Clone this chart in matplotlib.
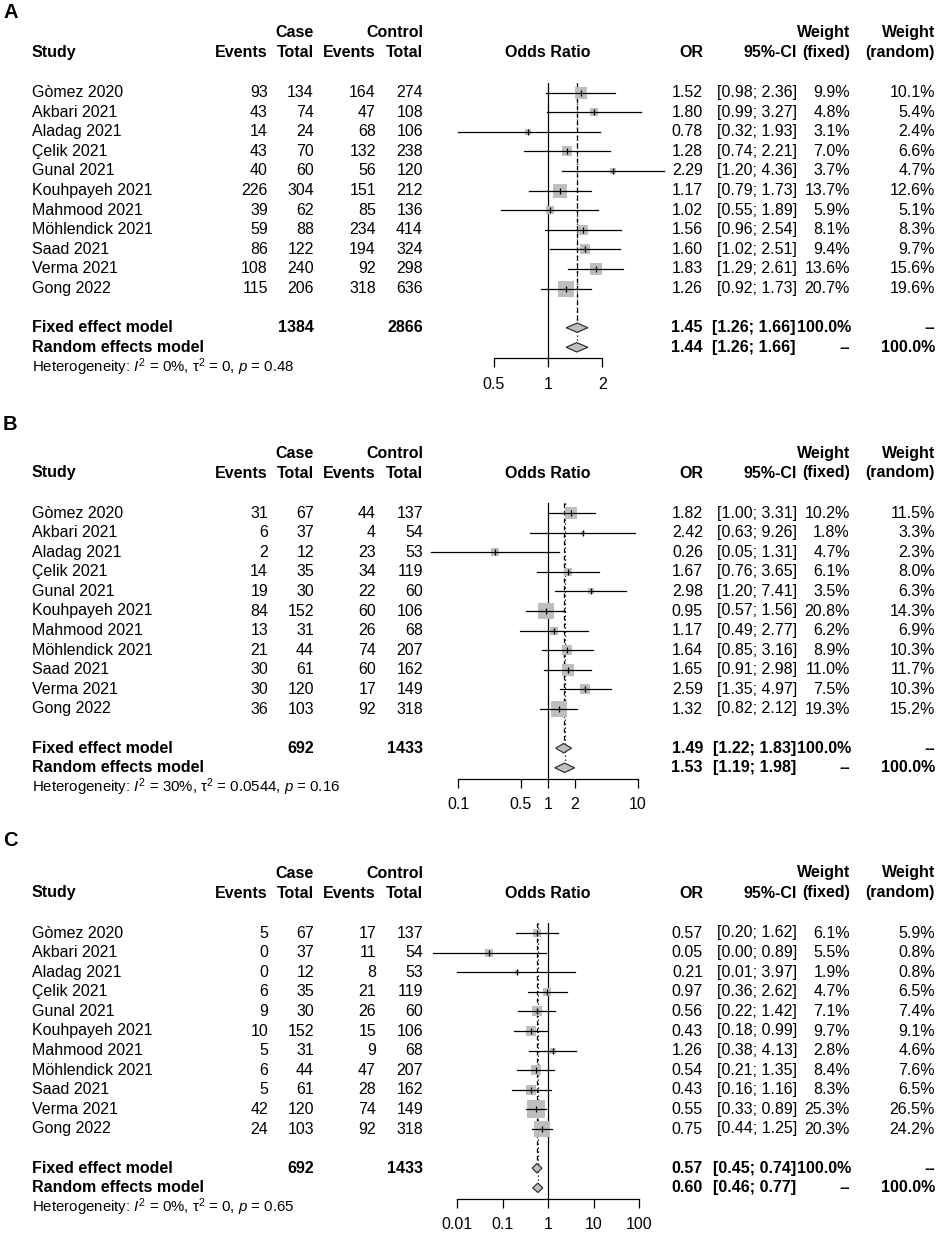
import numpy as np
import matplotlib
matplotlib.use("Agg")
import matplotlib.pyplot as plt

plt.rcParams['font.family'] = ['Liberation Sans', 'DejaVu Sans']
plt.rcParams['mathtext.fontset'] = 'custom'
plt.rcParams['mathtext.rm'] = 'Liberation Sans'
plt.rcParams['mathtext.it'] = 'Liberation Sans:italic'
plt.rcParams['mathtext.bf'] = 'Liberation Sans:bold'

studies = ["Gòmez 2020", "Akbari 2021", "Aladag 2021", "Çelik 2021", "Gunal 2021",
           "Kouhpayeh 2021", "Mahmood 2021", "Möhlendick 2021", "Saad 2021",
           "Verma 2021", "Gong 2022"]

# panel A
a_case_ev = [93, 43, 14, 43, 40, 226, 39, 59, 86, 108, 115]
a_case_tot = [134, 74, 24, 70, 60, 304, 62, 88, 122, 240, 206]
a_ctrl_ev = [164, 47, 68, 132, 56, 151, 85, 234, 194, 92, 318]
a_ctrl_tot = [274, 108, 106, 238, 120, 212, 136, 414, 324, 298, 636]
a_or = [1.52, 1.80, 0.78, 1.28, 2.29, 1.17, 1.02, 1.56, 1.60, 1.83, 1.26]
a_lo = [0.98, 0.99, 0.32, 0.74, 1.20, 0.79, 0.55, 0.96, 1.02, 1.29, 0.92]
a_hi = [2.36, 3.27, 1.93, 2.21, 4.36, 1.73, 1.89, 2.54, 2.51, 2.61, 1.73]
a_wf = [9.9, 4.8, 3.1, 7.0, 3.7, 13.7, 5.9, 8.1, 9.4, 13.6, 20.7]
a_wr = [10.1, 5.4, 2.4, 6.6, 4.7, 12.6, 5.1, 8.3, 9.7, 15.6, 19.6]
a_fixed = [1.45, 1.26, 1.66]
a_random = [1.44, 1.26, 1.66]
a_totals = [1384, 2866]
a_het = ["0%", "0", "0.48"]
a_ticks = [0.5, 1, 2]
a_ticklabels = ["0.5", "1", "2"]

# panel B
b_case_ev = [31, 6, 2, 14, 19, 84, 13, 21, 30, 30, 36]
b_case_tot = [67, 37, 12, 35, 30, 152, 31, 44, 61, 120, 103]
b_ctrl_ev = [44, 4, 23, 34, 22, 60, 26, 74, 60, 17, 92]
b_ctrl_tot = [137, 54, 53, 119, 60, 106, 68, 207, 162, 149, 318]
b_or = [1.82, 2.42, 0.26, 1.67, 2.98, 0.95, 1.17, 1.64, 1.65, 2.59, 1.32]
b_lo = [1.00, 0.63, 0.05, 0.76, 1.20, 0.57, 0.49, 0.85, 0.91, 1.35, 0.82]
b_hi = [3.31, 9.26, 1.31, 3.65, 7.41, 1.56, 2.77, 3.16, 2.98, 4.97, 2.12]
b_wf = [10.2, 1.8, 4.7, 6.1, 3.5, 20.8, 6.2, 8.9, 11.0, 7.5, 19.3]
b_wr = [11.5, 3.3, 2.3, 8.0, 6.3, 14.3, 6.9, 10.3, 11.7, 10.3, 15.2]
b_fixed = [1.49, 1.22, 1.83]
b_random = [1.53, 1.19, 1.98]
b_totals = [692, 1433]
b_het = ["30%", "0.0544", "0.16"]
b_ticks = [0.1, 0.5, 1, 2, 10]
b_ticklabels = ["0.1", "0.5", "1", "2", "10"]

# panel C
c_case_ev = [5, 0, 0, 6, 9, 10, 5, 6, 5, 42, 24]
c_case_tot = [67, 37, 12, 35, 30, 152, 31, 44, 61, 120, 103]
c_ctrl_ev = [17, 11, 8, 21, 26, 15, 9, 47, 28, 74, 92]
c_ctrl_tot = [137, 54, 53, 119, 60, 106, 68, 207, 162, 149, 318]
c_or = [0.57, 0.05, 0.21, 0.97, 0.56, 0.43, 1.26, 0.54, 0.43, 0.55, 0.75]
c_lo = [0.20, 0.003, 0.01, 0.36, 0.22, 0.18, 0.38, 0.21, 0.16, 0.33, 0.44]
c_hi = [1.62, 0.89, 3.97, 2.62, 1.42, 0.99, 4.13, 1.35, 1.16, 0.89, 1.25]
c_wf = [6.1, 5.5, 1.9, 4.7, 7.1, 9.7, 2.8, 8.4, 8.3, 25.3, 20.3]
c_wr = [5.9, 0.8, 0.8, 6.5, 7.4, 9.1, 4.6, 7.6, 6.5, 26.5, 24.2]
c_fixed = [0.57, 0.45, 0.74]
c_random = [0.60, 0.46, 0.77]
c_totals = [692, 1433]
c_het = ["0%", "0", "0.65"]
c_ticks = [0.01, 0.1, 1, 10, 100]
c_ticklabels = ["0.01", "0.1", "1", "10", "100"]

W, H = 941, 1235
fig = plt.figure(figsize=(W / 100, H / 100), dpi=100)
FS = 11.5
ROW = 19.6
GRAY = "#BEBEBE"


def txt(x, y, s, ha="left", bold=False, size=FS):
    fig.text(x / W, 1 - y / H, s, ha=ha, va="center", fontsize=size,
             fontweight="bold" if bold else "normal")


def panel(label, label_y, row0, case_ev, case_tot, ctrl_ev, ctrl_tot, ors, lo, hi,
          wf, wr, fixed, random, totals, het, ticks, ticklabels, px_dec):
    txt(3, label_y, label, bold=True, size=14.5)
    h1 = row0 - 60
    h2 = row0 - 40
    txt(314, h1, "Case", ha="right", bold=True)
    txt(423, h1, "Control", ha="right", bold=True)
    txt(850, h1, "Weight", ha="right", bold=True)
    txt(935, h1, "Weight", ha="right", bold=True)
    txt(32, h2, "Study", bold=True)
    txt(268, h2, "Events", ha="right", bold=True)
    txt(314, h2, "Total", ha="right", bold=True)
    txt(376, h2, "Events", ha="right", bold=True)
    txt(423, h2, "Total", ha="right", bold=True)
    txt(548, h2, "Odds Ratio", ha="center", bold=True)
    txt(703, h2, "OR", ha="right", bold=True)
    txt(797, h2, "95%-CI", ha="right", bold=True)
    txt(850, h2, "(fixed)", ha="right", bold=True)
    txt(935, h2, "(random)", ha="right", bold=True)

    for i, name in enumerate(studies):
        y = row0 + i * ROW
        txt(32, y, name)
        txt(268, y, str(case_ev[i]), ha="right")
        txt(314, y, str(case_tot[i]), ha="right")
        txt(376, y, str(ctrl_ev[i]), ha="right")
        txt(423, y, str(ctrl_tot[i]), ha="right")
        txt(703, y, f"{ors[i]:.2f}", ha="right")
        txt(797, y, f"[{lo[i]:.2f}; {hi[i]:.2f}]", ha="right")
        txt(850, y, f"{wf[i]:.1f}%", ha="right")
        txt(935, y, f"{wr[i]:.1f}%", ha="right")

    yf = row0 + 12 * ROW
    yr = row0 + 13 * ROW
    txt(32, yf, "Fixed effect model", bold=True)
    txt(314, yf, str(totals[0]), ha="right", bold=True)
    txt(423, yf, str(totals[1]), ha="right", bold=True)
    txt(703, yf, f"{fixed[0]:.2f}", ha="right", bold=True)
    txt(796, yf, f"[{fixed[1]:.2f}; {fixed[2]:.2f}]", ha="right", bold=True)
    txt(851, yf, "100.0%", ha="right", bold=True)
    txt(935, yf, "--", ha="right", bold=True)
    txt(32, yr, "Random effects model", bold=True)
    txt(703, yr, f"{random[0]:.2f}", ha="right", bold=True)
    txt(796, yr, f"[{random[1]:.2f}; {random[2]:.2f}]", ha="right", bold=True)
    txt(850, yr, "--", ha="right", bold=True)
    txt(935, yr, "100.0%", ha="right", bold=True)
    het_str = ("Heterogeneity: $\\mathit{I}^{2}$ = " + het[0] + ", τ${}^{2}$ = "
               + het[1] + ", $\\mathit{p}$ = " + het[2])
    txt(32, row0 + 14 * ROW, het_str, size=10.8)

    # forest part
    x0, x1 = 420, 690
    top = -0.7
    bot = 13.55
    ax = fig.add_axes([x0 / W, 1 - (row0 + bot * ROW) / H, (x1 - x0) / W,
                       (bot - top) * ROW / H])
    ax.set_xscale("log")
    ax.set_xlim(10 ** ((x0 - 548) / px_dec), 10 ** ((x1 - 548) / px_dec))
    ax.set_ylim(bot, top)
    ax.patch.set_alpha(0)
    for s in ["top", "left", "right"]:
        ax.spines[s].set_visible(False)
    ax.spines["bottom"].set_bounds(ticks[0], ticks[-1])
    ax.spines["bottom"].set_linewidth(0.9)
    ax.set_yticks([])
    ax.set_xticks(ticks)
    ax.set_xticklabels(ticklabels)
    ax.xaxis.set_minor_locator(matplotlib.ticker.NullLocator())
    ax.tick_params(axis="x", direction="out", length=6.5, width=0.9, pad=7,
                   labelsize=FS)

    hd = 0.24
    ax.plot([1, 1], [-0.5, bot], color="black", lw=0.9, zorder=1)
    ax.plot([fixed[0]] * 2, [-0.5, 12 - hd], color="black", lw=0.9,
            dashes=(3.5, 2.5), zorder=1)
    ax.plot([random[0]] * 2, [-0.5, 13 - hd], color="black", lw=0.9,
            dashes=(1, 2.2), zorder=1)

    rows = np.arange(len(studies))
    for i in rows:
        side = 3.52 * np.sqrt(wf[i]) * 0.72
        ax.plot(ors[i], i, marker="s", ms=side, color=GRAY, mew=0, zorder=2)
        ax.plot([lo[i], hi[i]], [i, i], color="black", lw=0.9, zorder=3)
        ax.plot(ors[i], i, marker="|", ms=3.8, mew=0.9, color="black", zorder=4)

    for r, (est, l, u) in [(12, fixed), (13, random)]:
        ax.fill([l, est, u, est, l], [r, r - hd, r, r + hd, r],
                facecolor=GRAY, edgecolor="#222222", lw=0.8, zorder=3)


panel("A", 13, 92.5, a_case_ev, a_case_tot, a_ctrl_ev, a_ctrl_tot, a_or, a_lo, a_hi,
      a_wf, a_wr, a_fixed, a_random, a_totals, a_het, a_ticks, a_ticklabels, 181)
panel("B", 424, 513, b_case_ev, b_case_tot, b_ctrl_ev, b_ctrl_tot, b_or, b_lo, b_hi,
      b_wf, b_wr, b_fixed, b_random, b_totals, b_het, b_ticks, b_ticklabels, 90)
panel("C", 840, 933, c_case_ev, c_case_tot, c_ctrl_ev, c_ctrl_tot, c_or, c_lo, c_hi,
      c_wf, c_wr, c_fixed, c_random, c_totals, c_het, c_ticks, c_ticklabels, 45.5)

fig.savefig("out.png", dpi=100)
